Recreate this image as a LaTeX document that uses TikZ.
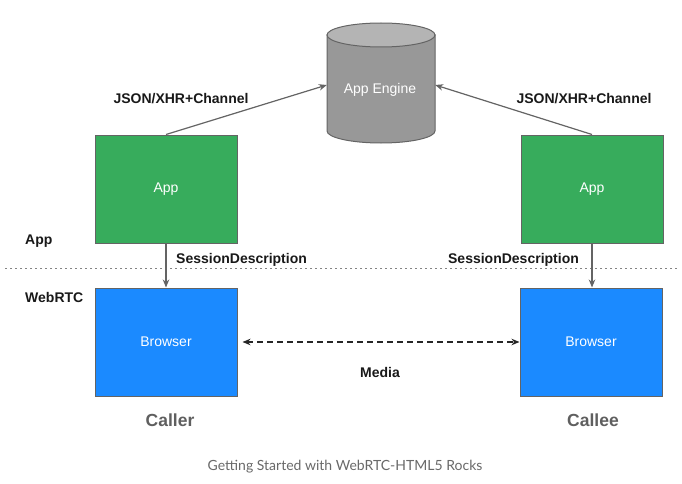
\documentclass[tikz,border=0pt]{standalone}
\usepackage{fontspec}
\setmainfont{Liberation Sans}
\newfontfamily\capfont{Lato}
\usetikzlibrary{arrows.meta}
\definecolor{appgreen}{RGB}{55,172,92}
\definecolor{brblue}{RGB}{27,138,255}
\definecolor{edgegray}{RGB}{100,100,100}
\definecolor{cylbody}{RGB}{152,152,152}
\definecolor{cyltop}{RGB}{180,180,180}
\definecolor{txtgray}{RGB}{95,95,95}
\definecolor{capgray}{RGB}{105,105,105}
\tikzset{
  box/.style={draw=edgegray, line width=1pt, minimum width=142pt, minimum height=108pt, inner sep=0pt,
    text=white, font=\fontsize{14}{16}\selectfont},
  appbox/.style={box, fill=appgreen},
  brbox/.style={box, fill=brblue},
  lbl/.style={font=\fontsize{14}{16}\selectfont\bfseries, text=black!90, inner sep=0pt},
  who/.style={font=\fontsize{17.5}{20}\selectfont\bfseries, text=txtgray, inner sep=0pt},
  conn/.style={draw=edgegray, line width=1.2pt, -{Stealth[length=8pt,width=6.5pt]}},
}
\begin{document}
\begin{tikzpicture}[x=1pt,y=-1pt]
\useasboundingbox (0,0) rectangle (682,484);
\fill[white] (0,0) rectangle (682,484);
% cylinder
\path[fill=cylbody, draw=edgegray, line width=1pt]
  (327,35) -- (327,131) .. controls (327,137.6) and (351.2,143) .. (381,143)
  .. controls (410.8,143) and (435,137.6) .. (435,131) -- (435,35) -- cycle;
\draw[fill=cyltop, draw=edgegray, line width=1pt] (381,35) ellipse [x radius=54pt, y radius=12pt];
\node[minimum width=108pt, minimum height=100pt, inner sep=0pt] (engine) at (381,85) {};
\node[text=white, font=\fontsize{14}{16}\selectfont, inner sep=0pt] (enginetxt) at (380,90) {App Engine};
% boxes
\node[appbox] (app1) at (166,189) {App};
\node[appbox] (app2) at (592,189) {App};
\node[brbox] (br1) at (166,342) {Browser};
\node[brbox] (br2) at (591,342) {Browser};
% dotted separator
\coordinate (sepl) at (5,268);
\coordinate (sepr) at (677,268);
\draw[edgegray!80, line width=1pt, dash pattern=on 1.5pt off 3.5pt] (sepl) -- (sepr);
% connectors
\draw[conn] (app1.north) -- (engine.west);
\draw[conn] (app2.north) -- (engine.east);
\draw[conn] (app1.south) -- (br1.north);
\draw[conn] (app2.south) -- (app2.south |- br2.north);
\draw[black!85, line width=1.4pt, dash pattern=on 6pt off 4pt, {Stealth[length=8pt,width=6.5pt]}-{Stealth[length=8pt,width=6.5pt]}, shorten <=5pt] (br1.east) -- (br2.west);
% labels
\node[lbl] (json1) at (181,99) {JSON/XHR+Channel};
\node[lbl] (json2) at (584,99) {JSON/XHR+Channel};
\node[lbl, anchor=west] (sd1) at (176,260) {SessionDescription};
\node[lbl] (sd2) at (513.5,260) {SessionDescription};
\node[lbl, anchor=west] (lapp) at (25,241) {App};
\node[lbl, anchor=west] (lweb) at (25,297) {WebRTC};
\node[lbl] (media) at (380,372) {Media};
\node[who] (caller) at (170,420) {Caller};
\node[who] (callee) at (593,420) {Callee};
\node[font=\capfont\fontsize{14}{16}\selectfont, text=capgray, inner sep=0pt] (caption) at (345,467) {Getting Started with WebRTC-HTML5 Rocks};
\end{tikzpicture}
\end{document}
